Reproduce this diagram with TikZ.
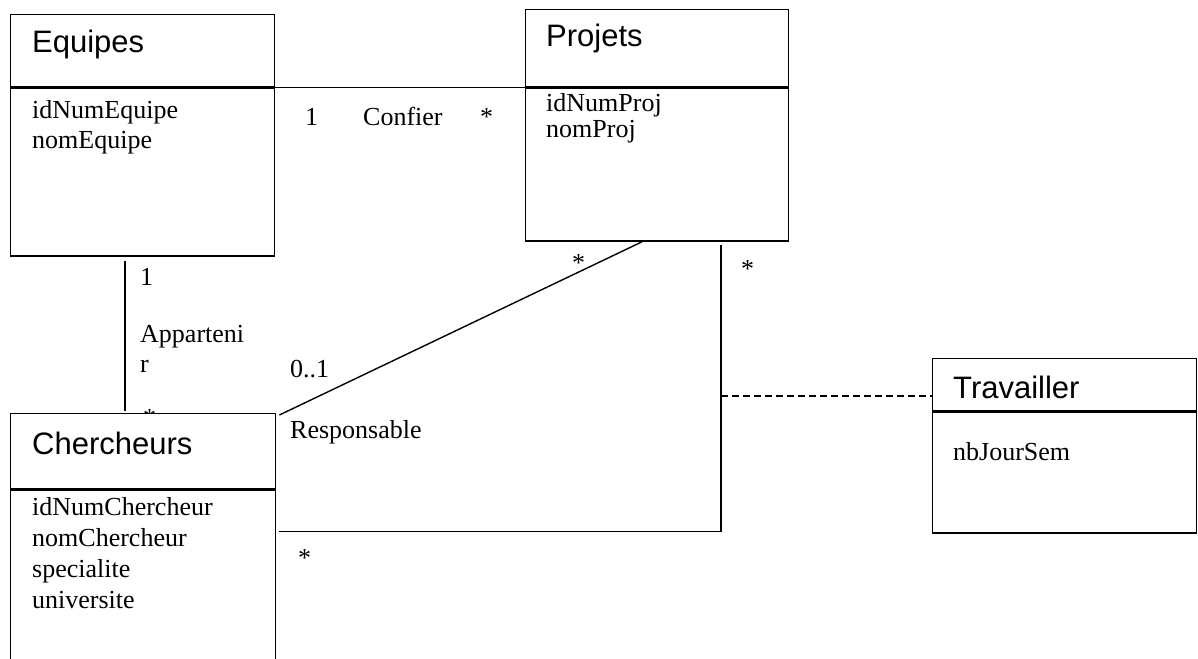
\documentclass[tikz,border=0pt]{standalone}
\usepackage{fontspec}
\setmainfont{Liberation Serif}
\newfontfamily\headfont{Liberation Sans}
\usetikzlibrary{positioning}
\begin{document}
\begin{tikzpicture}[x=1pt, y=-1pt,
    box/.style={draw, fill=white, line width=1.4pt, inner sep=0pt, anchor=north west},
    title/.style={anchor=base west, inner sep=0pt, font=\headfont\fontsize{31}{36}\selectfont},
    attr/.style={anchor=base west, inner sep=0pt, font=\fontsize{26}{30}\selectfont},
    assoc/.style={line width=1.4pt}]
    \useasboundingbox (0,0) rectangle (1198,658);
    \clip (0,0) rectangle (1198,658);

    % Classes
    \node[box, minimum width=264pt, minimum height=72pt] (equipesT) at (10,14) {};
    \node[box, minimum width=264pt, minimum height=168pt] (equipesA) at (equipesT.south west) {};
    \node[box, minimum width=263pt, minimum height=77pt] (projetsT) at (525,9) {};
    \node[box, minimum width=263pt, minimum height=153pt] (projetsA) at (projetsT.south west) {};
    \node[box, minimum width=264pt, minimum height=52pt] (travT) at (932,358) {};
    \node[box, minimum width=264pt, minimum height=121pt] (travA) at (travT.south west) {};

    % multiplicity mostly hidden under Chercheurs
    \node[attr] (mAppB) at (143,426) {*};
    \node[box, minimum width=265pt, minimum height=75pt] (chercheursT) at (10,413) {};
    \node[box, minimum width=265pt, minimum height=190pt] (chercheursA) at (chercheursT.south west) {};

    % Titles and attributes
    \node[title] (tEquipes) at (32,53) {Equipes};
    \node[attr] (aIdEquipe) at (32,118) {idNumEquipe};
    \node[attr] (aNomEquipe) at (32,148) {nomEquipe};
    \node[title] (tProjets) at (546,47) {Projets};
    \node[attr] (aIdProj) at (546,112) {idNumProj};
    \node[attr] (aNomProj) at (546,137) {nomProj};
    \node[title] (tChercheurs) at (32,454) {Chercheurs};
    \node[attr] (aIdCh) at (32,515) {idNumChercheur};
    \node[attr] (aNomCh) at (32,546) {nomChercheur};
    \node[attr] (aSpec) at (32,577) {specialite};
    \node[attr] (aUniv) at (32,608) {universite};
    \node[title] (tTrav) at (953,398) {Travailler};
    \node[attr] (aNbJour) at (953,460) {nbJourSem};

    % Associations
    \draw[assoc] (equipesT.south east) -- (projetsT.south west);
    \draw[assoc] ([xshift=115pt,yshift=-4pt]equipesA.south west) -- ([xshift=115pt,yshift=2pt]chercheursT.north west);
    \draw[assoc] ([xshift=117pt]projetsA.south west) -- ([xshift=3pt,yshift=-2pt]chercheursT.north east);
    \draw[assoc] ([xshift=3pt,yshift=-42pt]chercheursA.north east) -| ([xshift=196pt,yshift=-3pt]projetsA.south west);
    \coordinate (travLink) at (721,396);
    \draw[assoc, dashed, dash pattern=on 7pt off 4pt] (travLink) -- (travLink -| travT.west);

    % Labels
    \node[attr] (mConfA) at (305,125) {1};
    \node[attr] (lConfier) at (363,125) {Confier};
    \node[attr] (mConfB) at (480,125) {*};
    \node[attr] (mAppA) at (140,285) {1};
    \node[attr] (lApp) at (140,342) {Apparteni};
    \node[attr] (lAppR) at (140,372) {r};
    \node[attr] (mRespA) at (290,377) {0..1};
    \node[attr] (lResp) at (290,438) {Responsable};
    \node[attr] (mRespB) at (572,271) {*};
    \node[attr] (mTravA) at (741,277) {*};
    \node[attr] (mTravB) at (298,566) {*};

\end{tikzpicture}
\end{document}
